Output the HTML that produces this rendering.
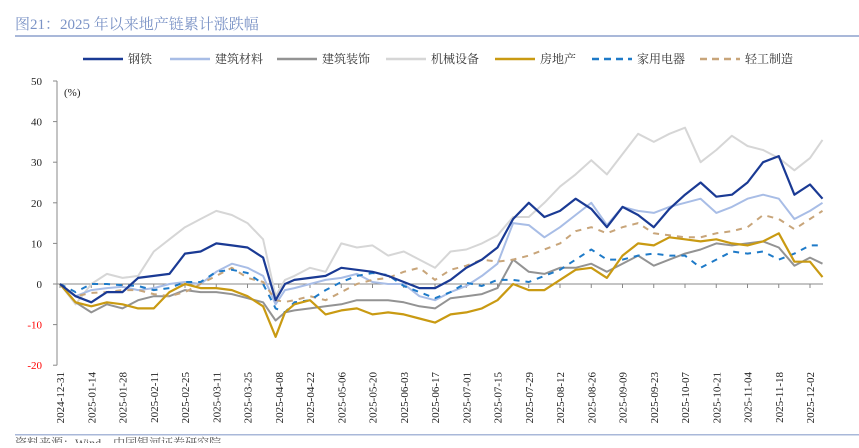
<!DOCTYPE html>
<html><head><meta charset="utf-8"><style>
body{margin:0;background:#fff;width:859px;height:443px;overflow:hidden;font-family:"Liberation Serif","Noto Serif CJK SC",serif;}
svg text{font-family:"Liberation Serif","Noto Serif CJK SC",serif;}
</style></head><body>
<svg id="c" width="859" height="443" xmlns="http://www.w3.org/2000/svg">
<text x="15" y="29" font-size="15" fill="#7b93c6" font-family="Liberation Sans, Noto Sans CJK SC, sans-serif">图21：2025 年以来地产链累计涨跌幅</text>
<rect x="15" y="35" width="844" height="2" fill="#a9b8d9"/>
<rect x="15" y="434" width="844" height="1.5" fill="#a9b8d9"/>
<text x="15" y="447" font-size="12" fill="#555">资料来源：Wind，中国银河证券研究院</text>
<g id="legend"></g>
<g id="axes"></g>
<g id="series"></g>
</svg>
<script>
const days=[0,5,10,15,20,25,30,35,40,45,50,55,60,65,69,72,75,80,85,90,95,100,105,110,115,120,125,130,135,140,145,150,155,160,165,170,175,180,185,190,195,200,205,210,215,220,225,230,235,240,244];
const tickLabels=["2024-12-31","2025-01-14","2025-01-28","2025-02-11","2025-02-25","2025-03-11","2025-03-25","2025-04-08","2025-04-22","2025-05-06","2025-05-20","2025-06-03","2025-06-17","2025-07-01","2025-07-15","2025-07-29","2025-08-12","2025-08-26","2025-09-09","2025-09-23","2025-10-07","2025-10-21","2025-11-04","2025-11-18","2025-12-02"];
const yTicks=[50,40,30,20,10,0,-10,-20];
const steel=[0,-3,-4.5,-2,-2,1.5,2,2.5,7.5,8,10,9.5,9,6.5,-4,0,1,1.5,2,4,3.5,3,2,0.5,-1,-1,1,4,6,9,16,20,16.5,18,21,18.5,14,19,17,14,18.5,22,25,21.5,22,25,30,31.5,22,24.5,21];
const buildMat=[0,-3,-1.5,-1,-0.7,-1.5,-1,0,0.5,0,3,5,4,2,-5,-1.5,-1,0,1,1.5,2.5,0.5,0,0,-3,-4,-2,-0.5,2,5,15,14.5,11.5,14,17,20,14.5,19,18,17.5,19,20,21,17.5,19,21,22,21,16,18,20];
const buildDeco=[0,-4.5,-7,-5,-6,-4,-3,-3,-1.5,-2,-2,-2.5,-3.5,-4.5,-9,-7,-6.5,-6,-5.5,-5,-4,-4,-4,-4.5,-5.5,-6,-3.5,-3,-2.5,-1,6,3,2.5,4,4,5,3,5,7,4.5,6,7.5,8.5,10,9.5,10,10.5,9,4.5,6.5,5];
const machinery=[0,-5,0,2.5,1.5,2,8,11,14,16,18,17,15,11,-3,1,2,4,3,10,9,9.5,7,8,6,4,8,8.5,10,12,16.5,16.5,20,24,27,30.5,27,32,37,35,37,38.5,30,33,36.5,34,33,31,28,31,35.5];
const realEstate=[0,-4.5,-5.5,-4.5,-5,-6,-6,-2,0,-1,-1,-1.5,-3,-5.5,-13,-7,-5,-4,-7.5,-6.5,-6,-7.5,-7,-7.5,-8.5,-9.5,-7.5,-7,-6,-4,0,-1.5,-1.5,1,3.5,4,1.5,7,10,9.5,11.5,11,10.5,11,10,9.5,10.5,12.5,5.5,5.5,1.7];
const appliances=[0,-2,0,0,-0.3,-0.5,-1.5,-1,0.5,0.5,3,3.5,2.7,0,-6,-7,-4.5,-4,-1.5,0.5,2,2.7,2.2,-0.5,-2,-3.5,-2,0.3,-0.5,1,1,0.5,2,3.5,6,8.5,6,6,7,7.5,7,7,4,6,8,7.5,8,6,7.5,9.5,9.5];
const lightMfg=[0,-3,-2.2,-2,-1.5,-1.5,-2.5,-3,-2,0,2,4,1.5,0.5,-4,-4.4,-4,-3,-4,-2,0,1,1.5,3,4,1,3.5,4.5,6,5.5,6,7,8.5,10,13,14,12.5,14,15,12.5,12,11.5,11.5,12.5,13,14,17,16,13.5,16,18];
const NS="http://www.w3.org/2000/svg";
const X=d=>60+d*3.125;
const Y=v=>284-v*4.06;
function mk(tag,attrs,parent){const e=document.createElementNS(NS,tag);for(const k in attrs)e.setAttribute(k,attrs[k]);parent.appendChild(e);return e;}
const axes=document.getElementById('axes');
let e=mk('line',{x1:57,y1:Y(50),x2:57,y2:Y(-20),stroke:'#888','stroke-width':1},axes);


yTicks.forEach(v=>{
  let t=mk('line',{x1:53,x2:57,y1:Y(v),y2:Y(v),stroke:'#888'},axes);
  
  
  let l=mk('text',{x:42,y:Y(v)+4,'font-size':11,'text-anchor':'end',fill:v<0?'#ff0000':'#222'},axes);
  l.textContent=v;
  
  
});
let u=mk('text',{x:64,y:96,'font-size':11,fill:'#222'},axes);u.textContent='(%)';


e=mk('line',{x1:57,x2:823,y1:Y(0),y2:Y(0),stroke:'#888','stroke-width':1},axes);


tickLabels.forEach((s,i)=>{
  const x=X(i*10);
  let t=mk('line',{x1:x,x2:x,y1:Y(0),y2:Y(0)+4,stroke:'#888'},axes);
  
  
  let l=mk('text',{x:0,y:0,'font-size':11,'text-anchor':'end',fill:'#222',transform:`translate(${x+4},372) rotate(-90)`},axes);
  l.textContent=s;
  
  
});
const defs=[
 ['钢铁',steel,'#1a3a94',2.2,'','steel'],
 ['建筑材料',buildMat,'#a8bde6',2,'','building-materials'],
 ['建筑装饰',buildDeco,'#939393',2,'','building-decoration'],
 ['机械设备',machinery,'#d6d6d6',2,'','machinery'],
 ['房地产',realEstate,'#c99a12',2.2,'','real-estate'],
 ['家用电器',appliances,'#1e7ac8',2,'6,6','home-appliances'],
 ['轻工制造',lightMfg,'#c8a57a',2,'6,6','light-manufacturing']];
const order=[3,1,2,6,5,4,0];
const sg=document.getElementById('series');
order.forEach(i=>{
  const d=defs[i];
  const p=mk('path',{d:d[1].map((v,j)=>(j?'L':'M')+X(days[j]).toFixed(1)+' '+Y(v).toFixed(1)).join(''),fill:'none',stroke:d[2],'stroke-width':d[3],'stroke-dasharray':d[4]||'none','stroke-linejoin':'round'},sg);
  
  
});
const lx=[83,170,277,386,495,592,700];
const lg=document.getElementById('legend');
defs.forEach((d,i)=>{
  const g=mk('g',{},lg);
  
  
  mk('line',{x1:lx[i],x2:lx[i]+40,y1:59,y2:59,stroke:d[2],'stroke-width':2.5,'stroke-dasharray':d[4]?'7,5':'none'},g);
  const t=mk('text',{x:lx[i]+45,y:63,'font-size':12,fill:'#333'},g);
  t.textContent=d[0];
});
</script>
</body></html>
